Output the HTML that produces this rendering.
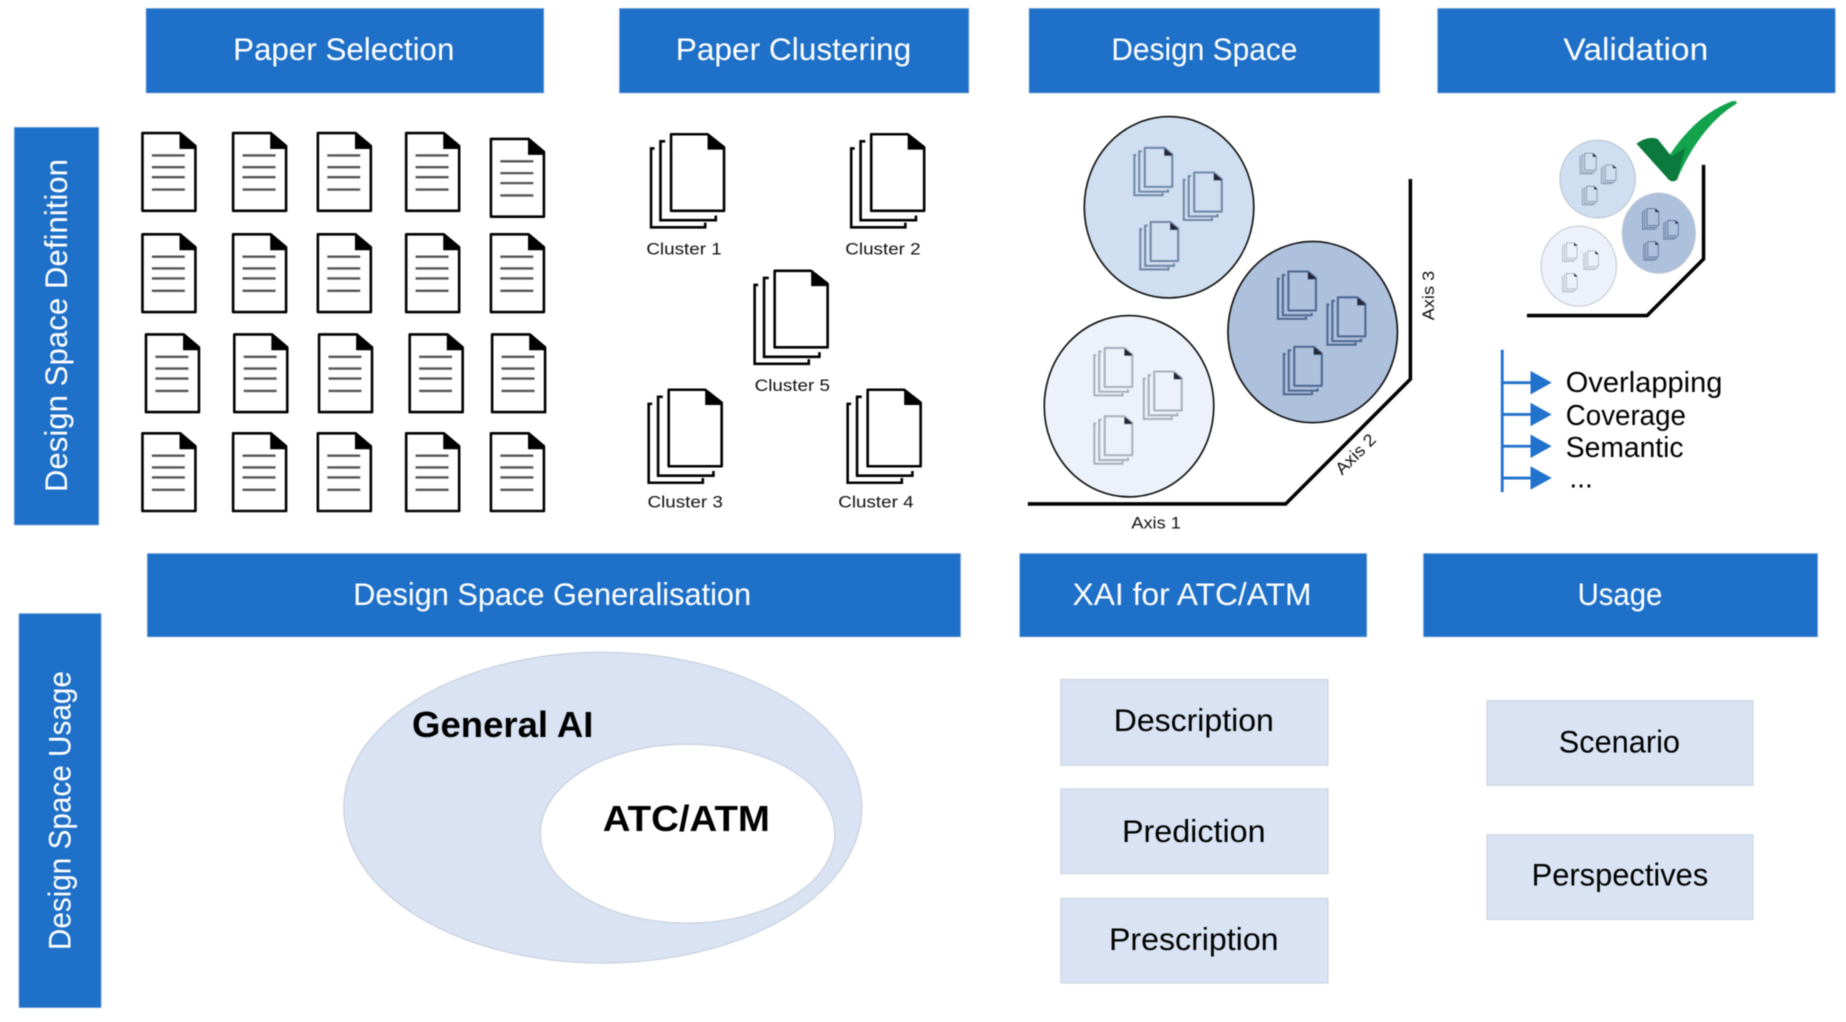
<!DOCTYPE html>
<html><head><meta charset="utf-8"><style>
html,body{margin:0;padding:0;background:#fff;width:1846px;height:1022px;overflow:hidden}
svg{display:block;filter:blur(.5px)}
text{font-family:"Liberation Sans",sans-serif}
.h{fill:#fff;font-size:27px;text-anchor:start}
.b{fill:#000;font-size:27px}
.c{fill:#111;font-size:14.5px}
.v{fill:#000;font-size:24px}
</style></head><body>
<svg width="1846" height="1022" viewBox="0 0 1568 868" xmlns="http://www.w3.org/2000/svg">
<defs>
<g id="doc">
<path d="M1,1H33L46,12V67H1Z" fill="#fff" stroke="#000" stroke-width="2.2" stroke-linejoin="round"/>
<path d="M33,1L46,12V14H33Z" fill="#000" stroke="#000" stroke-width="1"/>
<path d="M9,20H37M9,30H37M9,38.500H37M9,49H37" stroke="#555" stroke-width="2"/>
</g>
<g id="stack">
<path d="M4,13H1V80H47V76" fill="none" stroke="#000" stroke-width="2.2"/>
<path d="M13,7H9V74H56V70" fill="none" stroke="#000" stroke-width="2.2"/>
<path d="M18,1H49L63,12V66H18Z" fill="#fff" stroke="#000" stroke-width="2.2" stroke-linejoin="round"/>
<path d="M49,1L63,12V14H49Z" fill="#000"/>
</g>
<g id="mini">
<path d="M4,13H1V80H47V76" fill="none" stroke-width="3.4"/>
<path d="M13,7H9V74H56V70" fill="none" stroke-width="3.4"/>
<path d="M18,1H50L63,12V66H18Z" fill="none" stroke-width="3.4" stroke-linejoin="round"/>
<path d="M50,1L63,12V14H50Z" fill="#223"/>
</g>
</defs>

<!-- header bars -->
<g fill="#1f70c8" stroke="#a9c4e4" stroke-width=".6">
<rect x="124" y="7" width="338" height="72"/>
<rect x="526" y="7" width="297" height="72"/>
<rect x="874" y="7" width="298" height="72"/>
<rect x="1221" y="7" width="338" height="72"/>
<rect x="125" y="470" width="691" height="71"/>
<rect x="866" y="470" width="295" height="71"/>
<rect x="1209" y="470" width="335" height="71"/>
<rect x="12" y="108" width="72" height="338"/>
<rect x="16" y="521" width="70" height="335"/>
</g>
<text class="h" x="198" y="51" textLength="188" lengthAdjust="spacingAndGlyphs">Paper Selection</text>
<text class="h" x="574" y="51" textLength="200" lengthAdjust="spacingAndGlyphs">Paper Clustering</text>
<text class="h" x="944" y="51" textLength="158" lengthAdjust="spacingAndGlyphs">Design Space</text>
<text class="h" x="1328" y="51" textLength="123" lengthAdjust="spacingAndGlyphs">Validation</text>
<text class="h" x="300" y="514" textLength="338" lengthAdjust="spacingAndGlyphs">Design Space Generalisation</text>
<text class="h" x="911" y="514" textLength="203" lengthAdjust="spacingAndGlyphs">XAI for ATC/ATM</text>
<text class="h" x="1340" y="514" textLength="72" lengthAdjust="spacingAndGlyphs">Usage</text>
<text class="h" transform="translate(57,418) rotate(-90)" textLength="283" lengthAdjust="spacingAndGlyphs">Design Space Definition</text>
<text class="h" transform="translate(60,807) rotate(-90)" textLength="237" lengthAdjust="spacingAndGlyphs">Design Space Usage</text>

<!-- paper grid -->
<use href="#doc" x="120" y="112"/><use href="#doc" x="197" y="112"/><use href="#doc" x="269" y="112"/><use href="#doc" x="344" y="112"/><use href="#doc" x="416" y="117"/>
<use href="#doc" x="120" y="198"/><use href="#doc" x="197" y="198"/><use href="#doc" x="269" y="198"/><use href="#doc" x="344" y="198"/><use href="#doc" x="416" y="198"/>
<use href="#doc" x="123" y="283"/><use href="#doc" x="198" y="283"/><use href="#doc" x="270" y="283"/><use href="#doc" x="347" y="283"/><use href="#doc" x="417" y="283"/>
<use href="#doc" x="120" y="367"/><use href="#doc" x="197" y="367"/><use href="#doc" x="269" y="367"/><use href="#doc" x="344" y="367"/><use href="#doc" x="416" y="367"/>

<!-- clusters -->
<use href="#stack" x="552" y="113"/><use href="#stack" x="722" y="113"/><use href="#stack" x="640" y="229"/><use href="#stack" x="550" y="330"/><use href="#stack" x="719" y="330"/>
<text class="c" x="549" y="216" textLength="64" lengthAdjust="spacingAndGlyphs">Cluster 1</text>
<text class="c" x="718" y="216" textLength="64" lengthAdjust="spacingAndGlyphs">Cluster 2</text>
<text class="c" x="641" y="332" textLength="64" lengthAdjust="spacingAndGlyphs">Cluster 5</text>
<text class="c" x="550" y="431" textLength="64" lengthAdjust="spacingAndGlyphs">Cluster 3</text>
<text class="c" x="712" y="431" textLength="64" lengthAdjust="spacingAndGlyphs">Cluster 4</text>

<!-- design space -->
<ellipse cx="993" cy="176" rx="72" ry="77" fill="#cfdef0" stroke="#111" stroke-width="1.4"/>
<ellipse cx="1115" cy="282" rx="72" ry="77" fill="#adc0dc" stroke="#111" stroke-width="1.4"/>
<ellipse cx="959" cy="345" rx="72" ry="77" fill="#edf2fa" stroke="#111" stroke-width="1.4"/>
<g stroke="#7088a8">
<use href="#mini" transform="translate(963,125) scale(.52,.51)"/>
<use href="#mini" transform="translate(1005,146) scale(.52,.51)"/>
<use href="#mini" transform="translate(968,188) scale(.52,.51)"/>
</g>
<g stroke="#4d6890">
<use href="#mini" transform="translate(1085,230) scale(.52,.51)"/>
<use href="#mini" transform="translate(1127,252) scale(.52,.51)"/>
<use href="#mini" transform="translate(1090,294) scale(.52,.51)"/>
</g>
<g stroke="#a9b1bd">
<use href="#mini" transform="translate(929,295) scale(.52,.51)"/>
<use href="#mini" transform="translate(971,315) scale(.52,.51)"/>
<use href="#mini" transform="translate(929,353) scale(.52,.51)"/>
</g>
<path d="M873,428H1092L1198,322V152" fill="none" stroke="#000" stroke-width="3"/>
<text class="c" x="961" y="449" textLength="42" lengthAdjust="spacingAndGlyphs">Axis 1</text>
<text class="c" transform="translate(1140,404) rotate(-45)" textLength="42" lengthAdjust="spacingAndGlyphs">Axis 2</text>
<text class="c" transform="translate(1218,272) rotate(-90)" textLength="42" lengthAdjust="spacingAndGlyphs">Axis 3</text>

<!-- validation -->
<ellipse cx="1357" cy="152" rx="32" ry="33" fill="#cfdef0" stroke="#bcc6d4" stroke-width="1"/>
<ellipse cx="1409" cy="198" rx="31" ry="34" fill="#adc0dc" stroke="#bcc6d4" stroke-width="1"/>
<ellipse cx="1341" cy="226" rx="32" ry="34" fill="#edf2fa" stroke="#c8cdd6" stroke-width="1"/>
<g stroke="#7f8fa6">
<use href="#mini" transform="translate(1342,130) scale(.22,.22)"/>
<use href="#mini" transform="translate(1360,140) scale(.2,.2)"/>
<use href="#mini" transform="translate(1344,158) scale(.2,.2)"/>
</g>
<g stroke="#5a7296">
<use href="#mini" transform="translate(1395,177) scale(.22,.22)"/>
<use href="#mini" transform="translate(1413,187) scale(.2,.2)"/>
<use href="#mini" transform="translate(1396,205) scale(.2,.2)"/>
</g>
<g stroke="#aab2bf">
<use href="#mini" transform="translate(1327,206) scale(.2,.2)"/>
<use href="#mini" transform="translate(1345,213) scale(.2,.2)"/>
<use href="#mini" transform="translate(1327,232) scale(.2,.2)"/>
</g>
<path d="M1297,268H1399L1447,220V140" fill="none" stroke="#000" stroke-width="3"/>
<path d="M1417,152Q1421,156 1425,151Q1445,106 1475,88Q1476,85 1471,86Q1440,98 1418,132L1410,143Z" fill="#12a34c"/>
<path d="M1390,122Q1400,115 1408,118L1420,133L1432,125Q1427,140 1425,152Q1421,156 1417,152Z" fill="#0c7a3c"/>

<g stroke="#2172cc" stroke-width="2.4" fill="none">
<path d="M1276,297V418M1276,325H1302M1276,352H1302M1276,379H1302M1276,406H1302"/>
</g>
<g fill="#2172cc">
<path d="M1300,315L1318,325L1300,335Z"/><path d="M1300,342L1318,352L1300,362Z"/><path d="M1300,369L1318,379L1300,389Z"/><path d="M1300,396L1318,406L1300,416Z"/>
</g>
<text class="v" x="1330" y="333" textLength="133" lengthAdjust="spacingAndGlyphs">Overlapping</text>
<text class="v" x="1330" y="361" textLength="102" lengthAdjust="spacingAndGlyphs">Coverage</text>
<text class="v" x="1330" y="388" textLength="100" lengthAdjust="spacingAndGlyphs">Semantic</text>
<text class="v" x="1333" y="414">...</text>

<!-- generalisation -->
<ellipse cx="512" cy="686" rx="220" ry="132" fill="#d9e3f3" stroke="#c9d1dd" stroke-width="1"/>
<ellipse cx="584" cy="708" rx="125" ry="76" fill="#fff" stroke="#c9d1dd" stroke-width="1"/>
<text x="350" y="626" font-size="31" font-weight="bold" textLength="154" lengthAdjust="spacingAndGlyphs">General AI</text>
<text x="512" y="706" font-size="31" font-weight="bold" textLength="142" lengthAdjust="spacingAndGlyphs">ATC/ATM</text>

<!-- boxes -->
<g fill="#d9e3f3" stroke="#c9d1dd" stroke-width=".8">
<rect x="901" y="577" width="227" height="73"/>
<rect x="901" y="670" width="227" height="72"/>
<rect x="901" y="763" width="227" height="72"/>
<rect x="1263" y="595" width="226" height="72"/>
<rect x="1263" y="709" width="226" height="72"/>
</g>
<text class="b" x="946" y="621" textLength="136" lengthAdjust="spacingAndGlyphs">Description</text>
<text class="b" x="953" y="715" textLength="122" lengthAdjust="spacingAndGlyphs">Prediction</text>
<text class="b" x="942" y="807" textLength="144" lengthAdjust="spacingAndGlyphs">Prescription</text>
<text class="b" x="1324" y="639" textLength="103" lengthAdjust="spacingAndGlyphs">Scenario</text>
<text class="b" x="1301" y="752" textLength="150" lengthAdjust="spacingAndGlyphs">Perspectives</text>
</svg>
</body></html>
